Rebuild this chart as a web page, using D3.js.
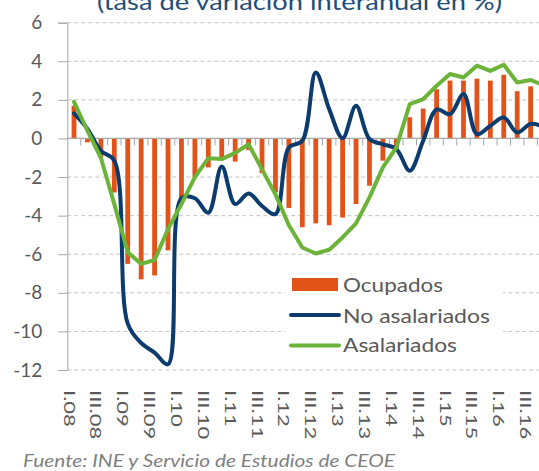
<!DOCTYPE html>
<html>
<head>
<meta charset="utf-8">
<script src="https://cdn.jsdelivr.net/npm/d3@7"></script>
<style>
    body { margin: 0; background: #fff; }
    text { font-family: Lato, "Open Sans", sans-serif; }
</style>
</head>
<body>
<div id="chart"></div>
<script>
// quarters I.08 .. IV.16
const quarters = ['I.08', 'II.08', 'III.08', 'IV.08', 'I.09', 'II.09', 'III.09', 'IV.09',
    'I.10', 'II.10', 'III.10', 'IV.10', 'I.11', 'II.11', 'III.11', 'IV.11',
    'I.12', 'II.12', 'III.12', 'IV.12', 'I.13', 'II.13', 'III.13', 'IV.13',
    'I.14', 'II.14', 'III.14', 'IV.14', 'I.15', 'II.15', 'III.15', 'IV.15',
    'I.16', 'II.16', 'III.16', 'IV.16'];

const ocupados = [1.7, -0.2, -1.0, -2.8, -6.5, -7.3, -7.1, -5.8, -3.2, -2.0, -1.5, -1.0,
    -1.2, -0.6, -1.8, -2.8, -3.6, -4.6, -4.4, -4.5, -4.1, -3.4, -2.45, -1.15,
    -0.5, 1.1, 1.55, 2.55, 3.0, 3.0, 3.1, 3.0, 3.3, 2.45, 2.7, 2.3];

const noAsalariados = [1.3, 0.5, -0.64, -1.15, -9.6, -10.6, -11.1, -11.7, -3.1, -3.1, -3.85, -1.45,
    -3.4, -2.85, -3.5, -3.92, -0.47, -0.12, 3.42, 1.52, 0.02, 1.69, -0.03, -0.3,
    -0.55, -1.67, -0.12, 1.5, 1.26, 2.3, 0.23, 0.66, 1.09, 0.31, 0.75, 0.6];

const asalariados = [1.9, 0.4, -1.0, -3.4, -5.9, -6.5, -6.3, -4.7, -3.4, -2.0, -1.02, -1.07,
    -0.75, -0.3, -1.6, -2.9, -4.5, -5.65, -5.96, -5.77, -5.13, -4.4, -3.05, -1.5,
    -0.47, 1.78, 2.04, 2.73, 3.34, 3.16, 3.77, 3.5, 3.82, 2.9, 3.03, 2.75];

const yTicks = [6, 4, 2, 0, -2, -4, -6, -8, -10, -12];
const shownLabels = quarters.filter((q, i) => i % 2 === 0);

const title = '(tasa de variación interanual en %)';
const source = 'Fuente: INE y Servicio de Estudios de CEOE';
const legendNames = ['Ocupados', 'No asalariados', 'Asalariados'];

var width = 539, height = 471;
var left = 67.3, band = 13.43;

var colOcu = '#E2531A', colNo = '#0C3B6E', colAs = '#6CB33A';

var svg = d3.select('#chart').append('svg')
    .attr('width', width)
    .attr('height', height);

let x = d3.scaleBand()
    .domain(quarters)
    .range([left, left + band * quarters.length])
    .padding(0);

let y = d3.scaleLinear()
    .domain([-12, 6])
    .range([370, 22.7]);

// gridlines
svg.append('g')
    .selectAll('line')
    .data(yTicks.filter(d => d !== 0))
    .enter().append('line')
    .attr('x1', left).attr('x2', width)
    .attr('y1', d => y(d)).attr('y2', d => y(d))
    .style('stroke', '#c4c4c4')
    .style('stroke-dasharray', '4,3');

// y axis
let yAxis = svg.append('g')
    .attr('transform', 'translate(' + left + ',0)')
    .call(d3.axisLeft(y).tickValues(yTicks).tickSize(9).tickPadding(16));
yAxis.select('.domain').style('stroke', '#a6a6a6');
yAxis.selectAll('.tick line').style('stroke', '#a6a6a6');
yAxis.selectAll('.tick text')
    .style('font-size', '19px')
    .style('fill', '#595959')
    .text(d => d < 0 ? '-' + Math.abs(d) : d);

// bars
svg.append('g')
    .selectAll('rect')
    .data(quarters)
    .enter().append('rect')
    .attr('x', (d, i) => x(d) + x.bandwidth() / 2 - 2.4)
    .attr('width', 4.8)
    .attr('y', (d, i) => y(Math.max(0, ocupados[i])))
    .attr('height', (d, i) => Math.abs(y(ocupados[i]) - y(0)))
    .style('fill', colOcu);

// zero axis with category ticks
svg.append('line')
    .attr('x1', left).attr('x2', width)
    .attr('y1', y(0)).attr('y2', y(0))
    .style('stroke', '#a6a6a6')
    .style('stroke-width', 1.2);

svg.append('g')
    .selectAll('line')
    .data(quarters.slice(1))
    .enter().append('line')
    .attr('x1', d => x(d)).attr('x2', d => x(d))
    .attr('y1', y(0)).attr('y2', y(0) + 7)
    .style('stroke', '#a6a6a6');

// lines
let lineNo = d3.line()
    .x((d, i) => x(quarters[i]) + x.bandwidth() / 2)
    .y(d => y(d))
    .curve(d3.curveCatmullRom.alpha(0.5));

let lineAs = d3.line()
    .x((d, i) => x(quarters[i]) + x.bandwidth() / 2)
    .y(d => y(d));

svg.append('path')
    .attr('d', lineNo(noAsalariados))
    .style('fill', 'none')
    .style('stroke', colNo)
    .style('stroke-width', 4)
    .style('stroke-linejoin', 'round')
    .style('stroke-linecap', 'round');

svg.append('path')
    .attr('d', lineAs(asalariados))
    .style('fill', 'none')
    .style('stroke', colAs)
    .style('stroke-width', 4)
    .style('stroke-linejoin', 'round')
    .style('stroke-linecap', 'round');

// x labels, rotated
svg.append('g')
    .selectAll('text')
    .data(shownLabels)
    .enter().append('text')
    .attr('transform', d => 'translate(' + (x(d) + x.bandwidth() / 2 - 4.5) + ',390) rotate(90) scale(1,0.68)')
    .attr('dominant-baseline', 'central')
    .style('font-size', '22px')
    .style('fill', '#595959')
    .text(d => d);

// legend
let legend = svg.append('g');
legend.append('rect')
    .attr('x', 285).attr('y', 268)
    .attr('width', 218).attr('height', 92)
    .style('fill', '#fff');

legend.append('rect')
    .attr('x', 292).attr('y', 278)
    .attr('width', 46).attr('height', 13)
    .style('fill', colOcu);

legend.append('line')
    .attr('x1', 291).attr('x2', 339)
    .attr('y1', 315).attr('y2', 315)
    .style('stroke', colNo).style('stroke-width', 4).style('stroke-linecap', 'round');

legend.append('line')
    .attr('x1', 291).attr('x2', 339)
    .attr('y1', 345.5).attr('y2', 345.5)
    .style('stroke', colAs).style('stroke-width', 4).style('stroke-linecap', 'round');

legend.selectAll('text.leg')
    .data(legendNames)
    .enter().append('text')
    .attr('class', 'leg')
    .attr('x', 343)
    .attr('y', (d, i) => [291.5, 323, 352][i])
    .attr('textLength', (d, i) => [100, 147, 114][i])
    .attr('lengthAdjust', 'spacingAndGlyphs')
    .style('font-size', '20px')
    .style('fill', '#595959')
    .text(d => d);

// title (cut at top) and source
svg.append('text')
    .attr('x', 97).attr('y', 10)
    .attr('textLength', 405)
    .attr('lengthAdjust', 'spacingAndGlyphs')
    .style('font-size', '23px')
    .style('fill', '#1F4E79')
    .text(title);

svg.append('text')
    .attr('x', 23).attr('y', 467)
    .attr('textLength', 372)
    .attr('lengthAdjust', 'spacingAndGlyphs')
    .style('font-size', '18px')
    .style('font-style', 'italic')
    .style('fill', '#7f7f7f')
    .text(source);
</script>
</body>
</html>
